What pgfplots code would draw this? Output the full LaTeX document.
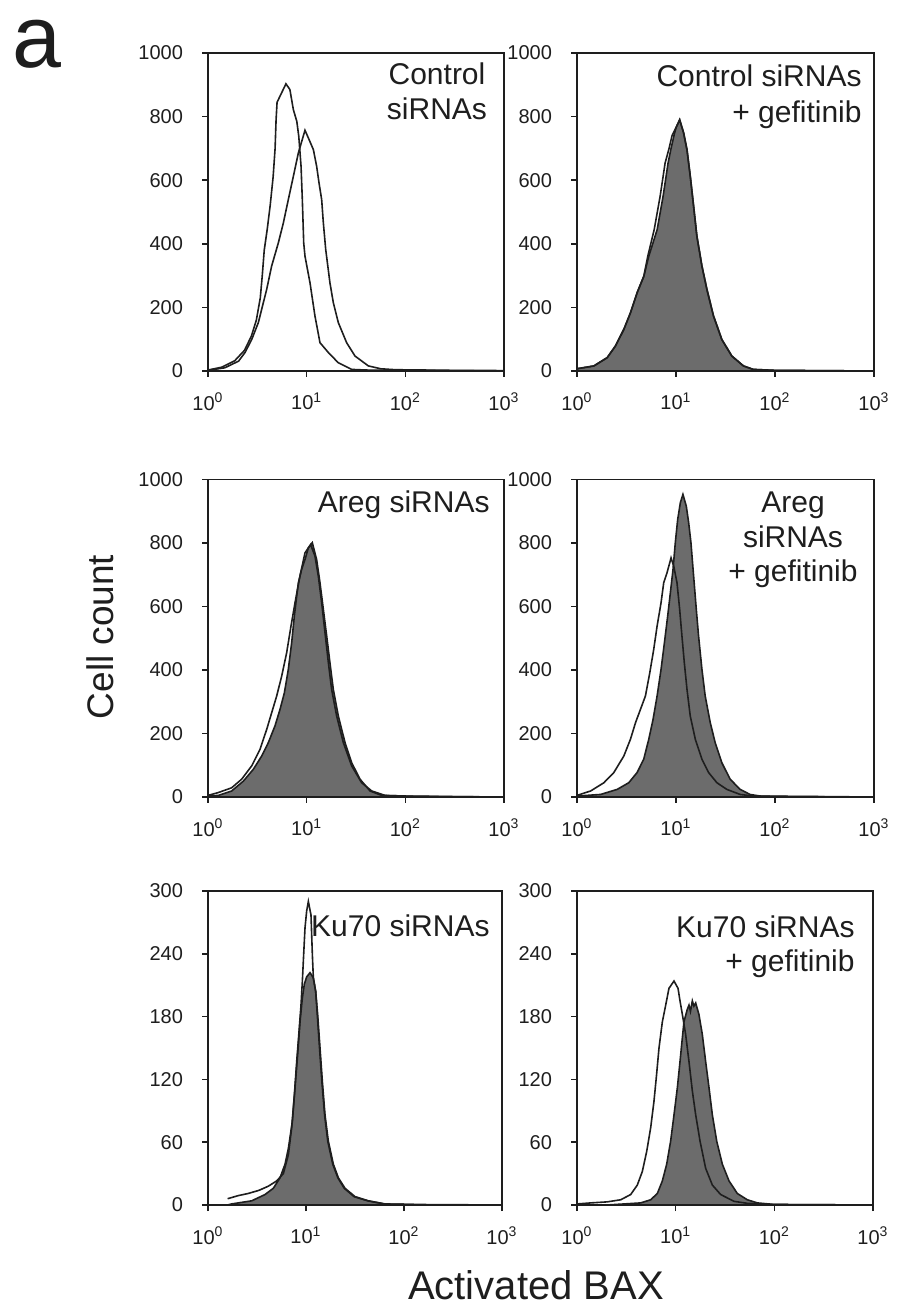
\documentclass[border=0pt]{standalone}
\usepackage{fontspec}
\setmainfont{Liberation Sans}
\usepackage{pgfplots}
\pgfplotsset{compat=1.18}
\definecolor{histfill}{RGB}{108,108,108}
\definecolor{ink}{RGB}{30,30,30}

\pgfplotsset{
  facs/.style={
    scale only axis, anchor=south west,
    xmin=0, xmax=3, ymin=0,
    xtick={0,1,2,3},
    xticklabels={10\textsuperscript{0},10\textsuperscript{1},10\textsuperscript{2},10\textsuperscript{3}},
    tick align=outside, xtick pos=bottom, ytick pos=left,
    major tick length=3pt,
    axis line style={ink, line width=0.9pt},
    tick style={ink, line width=0.8pt},
    tick label style={font=\fontsize{10}{11}\selectfont, text=ink},
    /pgf/number format/assume math mode=true,
    /pgf/number format/1000 sep={},
    yticklabel shift=6pt, xticklabel shift=4.5pt,
  },
  big/.style={ymax=1000, ytick={0,200,...,1000}},
  small/.style={ymax=300, ytick={0,60,...,300}},
  hist/.style={draw=ink, line width=0.8pt, fill=histfill},
  open/.style={draw=ink, line width=0.8pt},
}
\newcommand{\lab}{\fontsize{15}{17}\selectfont}

\begin{document}
\begin{tikzpicture}
\path[use as bounding box] (0,0) rectangle (448pt,654pt);

% top left: control siRNAs
\begin{axis}[facs, big, at={(104pt,468.5pt)}, width=148pt, height=159pt]
\addplot[open] coordinates {
(0,3) (0.14,12) (0.27,32) (0.37,65) (0.44,110) (0.49,160) (0.53,230) (0.55,300)
(0.57,380) (0.60,445) (0.63,520) (0.66,610) (0.68,700) (0.69,790) (0.70,845)
(0.79,903) (0.83,885) (0.865,822) (0.90,785) (0.92,738) (0.943,644) (0.956,539)
(0.97,403) (0.983,361) (1.034,277) (1.084,173) (1.135,89) (1.22,58) (1.32,26)
(1.456,5) (1.6,3) (2.0,2) (2.5,1) (3,0)};
\addplot[open] coordinates {
(0,2) (0.17,10) (0.31,31) (0.375,58) (0.443,99) (0.51,152) (0.561,215) (0.595,257)
(0.645,330) (0.713,403) (0.764,466) (0.814,539) (0.865,612) (0.916,686) (0.95,722)
(0.983,757) (1.017,733) (1.068,696) (1.101,644) (1.125,592) (1.152,539) (1.169,466)
(1.193,382) (1.236,277) (1.27,215) (1.321,152) (1.405,89) (1.49,47) (1.625,16)
(1.75,7) (1.9,4) (2.2,3) (2.5,2) (2.8,2) (3,1)};
\end{axis}

% top right: control siRNAs + gefitinib
\begin{axis}[facs, big, at={(288.5pt,468.5pt)}, width=148.5pt, height=159pt]
\addplot[hist] coordinates {
(0,7) (0.171,16) (0.305,42) (0.389,79) (0.473,131) (0.54,183) (0.607,246) (0.675,298)
(0.725,361) (0.81,445) (0.87,550) (0.92,654) (0.95,700) (0.983,745) (1.0,765)
(1.037,790) (1.077,749) (1.111,696) (1.144,613) (1.178,518) (1.211,424) (1.262,330)
(1.312,257) (1.379,173) (1.463,99) (1.564,47) (1.681,16) (1.78,5) (2.0,2) (2.5,1) (3,0)}
\closedcycle;
\addplot[open] coordinates {
(0,7) (0.171,16) (0.305,42) (0.389,79) (0.473,131) (0.54,183) (0.607,246) (0.675,298)
(0.715,361) (0.78,445) (0.84,550) (0.89,654) (0.93,700) (0.96,740) (1.0,765)
(1.037,790) (1.077,749) (1.111,696) (1.144,613) (1.178,518) (1.211,424) (1.262,330)
(1.312,257) (1.379,173) (1.463,99) (1.564,47) (1.681,16) (1.78,5) (2.0,2) (2.5,1) (3,0)};
\end{axis}

% middle left: Areg siRNAs
\begin{axis}[facs, big, at={(104pt,255.5pt)}, width=148pt, height=158.75pt]
\addplot[hist] coordinates {
(0,3) (0.105,5) (0.24,19) (0.358,50) (0.459,87) (0.544,129) (0.611,171) (0.679,224)
(0.73,276) (0.774,328) (0.814,402) (0.848,486) (0.875,570) (0.899,633) (0.916,675)
(0.949,717) (0.983,748) (1.017,785) (1.057,801) (1.101,748) (1.135,675) (1.169,591)
(1.203,507) (1.236,423) (1.27,339) (1.321,255) (1.389,171) (1.456,108) (1.541,56)
(1.642,19) (1.76,5) (2.0,3) (2.3,2) (2.6,1) (3,0)}
\closedcycle;
\addplot[open] coordinates {
(0,5) (0.105,14) (0.24,29) (0.341,56) (0.443,98) (0.527,150) (0.595,213) (0.645,265)
(0.696,318) (0.747,381) (0.797,454) (0.841,538) (0.882,612) (0.932,696) (0.983,769)
(1.04,795) (1.084,759) (1.118,696) (1.152,612) (1.186,517) (1.22,423) (1.253,339)
(1.304,255) (1.372,171) (1.456,98) (1.557,45) (1.659,19) (1.794,5) (2.1,2) (2.5,1) (3,0)};
\end{axis}

% middle right: Areg siRNAs + gefitinib
\begin{axis}[facs, big, at={(288.5pt,255.5pt)}, width=148.5pt, height=158.75pt]
\addplot[hist] coordinates {
(0,3) (0.238,8) (0.406,24) (0.523,45) (0.607,77) (0.674,119) (0.725,182) (0.768,244)
(0.809,318) (0.849,402) (0.883,486) (0.916,570) (0.943,643) (0.97,717) (0.993,801)
(1.017,874) (1.044,927) (1.07,953) (1.104,916) (1.128,864) (1.151,801) (1.178,696)
(1.205,591) (1.228,507) (1.262,402) (1.295,318) (1.346,234) (1.396,171) (1.463,108)
(1.547,56) (1.648,24) (1.748,8) (1.85,3) (2.2,2) (2.6,1) (3,0)}
\closedcycle;
\addplot[open] coordinates {
(0,5) (0.138,19) (0.272,45) (0.372,77) (0.473,129) (0.54,182) (0.591,234) (0.641,276)
(0.691,318) (0.735,391) (0.775,465) (0.809,538) (0.849,612) (0.876,675) (0.909,706)
(0.95,753) (0.977,727) (1.01,675) (1.037,591) (1.06,507) (1.084,423) (1.111,339)
(1.144,255) (1.195,182) (1.262,119) (1.329,77) (1.413,45) (1.513,24) (1.648,8)
(1.78,3) (2.2,1) (3,0)};
\end{axis}

% bottom left: Ku70 siRNAs
\begin{axis}[facs, small, at={(104pt,51.5pt)}, width=147pt, height=157pt]
\addplot[hist] coordinates {
(0.2,0) (0.24,1) (0.446,4) (0.582,10) (0.667,16) (0.735,26) (0.786,39) (0.82,54)
(0.861,80) (0.888,112) (0.915,144) (0.939,175) (0.963,198) (0.983,211) (1.007,218)
(1.041,222) (1.075,217) (1.099,204) (1.119,182) (1.143,150) (1.167,118) (1.194,86)
(1.228,61) (1.279,39) (1.33,26) (1.398,16) (1.5,8) (1.636,4) (1.806,1) (2.1,0.5) (3,0)}
\closedcycle;
\addplot[open] coordinates {
(0.2,6) (0.31,9) (0.41,11) (0.52,14) (0.616,18) (0.701,23) (0.769,30) (0.82,48)
(0.854,74) (0.881,105) (0.905,137) (0.929,166) (0.949,191) (0.963,214) (0.976,239)
(0.99,265) (1.007,281) (1.024,290) (1.051,277) (1.065,239) (1.075,217) (1.099,204)
(1.115,182) (1.138,150) (1.162,118) (1.19,86) (1.222,61) (1.273,39) (1.325,26)
(1.39,16) (1.49,8) (1.63,4) (1.8,1) (2.1,0.5)};
\end{axis}

% bottom right: Ku70 siRNAs + gefitinib
\begin{axis}[facs, small, at={(288.5pt,51.5pt)}, width=148pt, height=157pt]
\addplot[hist] coordinates {
(0.3,0) (0.476,1) (0.645,2) (0.747,5) (0.814,11) (0.865,23) (0.909,39) (0.949,61)
(0.983,86) (1.017,112) (1.044,137) (1.068,160) (1.084,175) (1.118,187) (1.135,191)
(1.15,185) (1.169,195) (1.185,190) (1.203,193) (1.236,182) (1.27,163) (1.304,137)
(1.338,112) (1.372,86) (1.416,61) (1.473,39) (1.541,23) (1.625,11) (1.726,5)
(1.828,2) (2.0,0.5) (3,0)}
\closedcycle;
\addplot[open] coordinates {
(0,1) (0.139,2) (0.307,3) (0.443,5) (0.544,10) (0.611,19) (0.662,32) (0.706,51)
(0.747,74) (0.78,99) (0.807,125) (0.831,150) (0.865,175) (0.899,191) (0.932,207)
(0.983,214) (1.024,207) (1.044,195) (1.068,182) (1.101,163) (1.135,137) (1.169,109)
(1.203,86) (1.247,61) (1.304,35) (1.372,19) (1.456,10) (1.591,3.5) (1.726,1.6)
(2.0,0.5) (3,0)};
\end{axis}

% panel captions
\begin{scope}[every node/.style={inner sep=0pt, text=ink, font=\lab}]
\node[anchor=base] at (218.5pt,611.5pt) {Control};
\node[anchor=base] at (218.5pt,594pt) {siRNAs};
\node[anchor=base east] at (431pt,610.5pt) {Control siRNAs};
\node[anchor=base east] at (431pt,592.5pt) {+ gefitinib};
\node[anchor=base east] at (245pt,397.5pt) {Areg siRNAs};
\node[anchor=base] at (396.5pt,397.5pt) {Areg};
\node[anchor=base] at (396.5pt,380pt) {siRNAs};
\node[anchor=base] at (396.5pt,363pt) {+ gefitinib};
\node[anchor=base east] at (245pt,185.5pt) {Ku70 siRNAs};
\node[anchor=base east] at (427.5pt,185pt) {Ku70 siRNAs};
\node[anchor=base east] at (427.5pt,168pt) {+ gefitinib};
\end{scope}

\node[anchor=base west, inner sep=0pt, text=ink, font=\fontsize{44}{48}\selectfont] at (6pt,620pt) {a};
\node[rotate=90, inner sep=0pt, text=ink, font=\fontsize{18.5}{20}\selectfont] at (50pt,335.5pt) {Cell count};
\node[anchor=base, inner sep=0pt, text=ink, font=\fontsize{20}{22}\selectfont] at (268pt,4.5pt) {Activated BAX};
\end{tikzpicture}
\end{document}
